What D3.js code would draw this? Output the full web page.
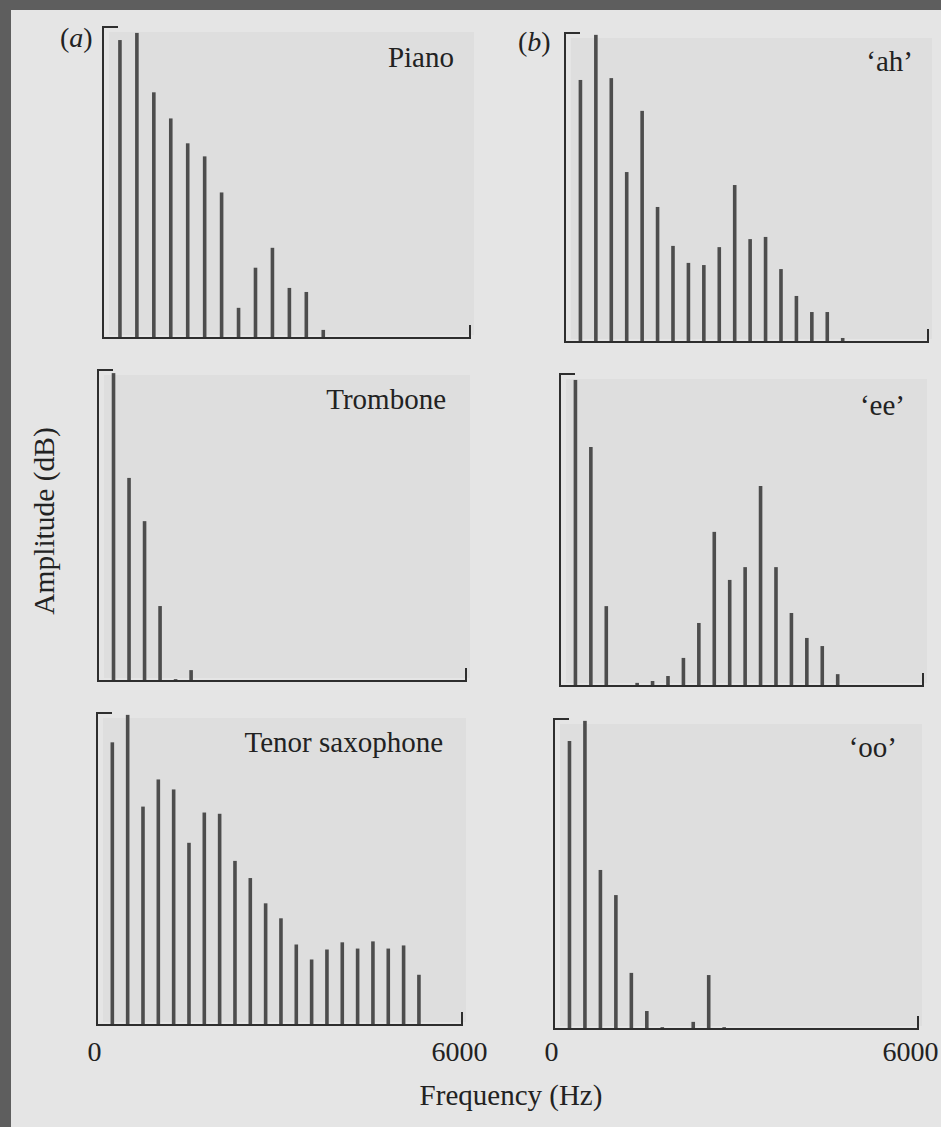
<!DOCTYPE html>
<html>
<head>
<meta charset="utf-8">
<script src="https://cdn.jsdelivr.net/npm/d3@7"></script>
<style>
  html, body { margin: 0; padding: 0; background: #5e5e5e; }
  svg { display: block; }
</style>
</head>
<body>
<div id="chart"></div>
<script>
// relative amplitude (0-100) of each harmonic
const pianoAmp     = [95.8, 98.1, 79.0, 70.6, 62.6, 58.4, 46.8, 9.7, 22.6, 29.0, 16.1, 14.8, 2.6];
const tromboneAmp  = [99.0, 65.3, 51.4, 24.1, 0.6, 3.5];
const saxAmp       = [90.6, 99.4, 70.0, 78.7, 75.5, 58.4, 68.1, 67.7, 52.6, 47.1, 39.0, 34.2, 25.8, 21.0, 24.2, 26.5, 24.5, 26.8, 24.5, 25.5, 16.1];
const ahAmp        = [84.8, 99.4, 85.4, 55.0, 74.8, 43.7, 31.1, 25.6, 24.9, 30.7, 50.8, 33.3, 34.0, 23.6, 14.9, 9.7, 9.7, 1.3];
const eeAmp        = [98.1, 76.6, 25.6, 0, 1.0, 1.6, 3.2, 9.0, 20.2, 49.4, 34.0, 38.1, 64.1, 38.1, 23.4, 15.4, 12.8, 3.8];
const ooAmp        = [92.9, 99.4, 51.3, 43.2, 18.1, 5.8, 0.6, 0, 2.3, 17.4, 0.6];

// fundamental frequency (Hz) for each spectrum
const fundamentals = {piano: 277, trombone: 253, sax: 252, ah: 255, ee: 255, oo: 255};

const panelTitles = {piano: 'Piano', trombone: 'Trombone', sax: 'Tenor saxophone',
                     ah: '\u2018ah\u2019', ee: '\u2018ee\u2019', oo: '\u2018oo\u2019'};
const freqTicks = [0, 6000];

const WIDTH = 941;
const HEIGHT = 1127;
const FONT = '"Liberation Serif", "DejaVu Serif", serif';

// where each little plot sits on the page (left, top, right, bottom of the axes)
const panels = [
    {key: 'piano',    amp: pianoAmp,    box: [103, 27, 470, 338],  tx: 454, ty: 67},
    {key: 'trombone', amp: tromboneAmp, box: [98, 370, 466, 681],  tx: 446, ty: 409},
    {key: 'sax',      amp: saxAmp,      box: [97, 713, 462, 1025], tx: 443, ty: 752, ticks: true, endShift: -3},
    {key: 'ah',       amp: ahAmp,       box: [565, 33, 928, 342],  tx: 913, ty: 71},
    {key: 'ee',       amp: eeAmp,       box: [560, 374, 923, 686], tx: 905, ty: 415},
    {key: 'oo',       amp: ooAmp,       box: [554, 719, 918, 1029], tx: 897, ty: 757, ticks: true, endShift: -8}
];

const svg = d3.select('#chart').append('svg')
    .attr('width', WIDTH)
    .attr('height', HEIGHT);

// dark page edge and the light printed sheet
svg.append('rect')
    .attr('width', WIDTH).attr('height', HEIGHT)
    .attr('fill', '#5e5e5e');
svg.append('rect')
    .attr('x', 11).attr('y', 10)
    .attr('width', WIDTH - 11).attr('height', HEIGHT - 10)
    .attr('fill', '#e5e5e5');

panels.forEach(p => {
    const [L, T, R, B] = p.box;
    const f0 = fundamentals[p.key];

    const x = d3.scaleLinear().domain([0, 6000]).range([L, R]);
    const y = d3.scaleLinear().domain([0, 100]).range([B, T]);

    const g = svg.append('g').attr('class', 'panel ' + p.key);

    // faint plot background
    g.append('rect')
        .attr('x', L + 6).attr('y', T + 5)
        .attr('width', R - L - 2).attr('height', B - T - 8)
        .attr('fill', '#dedede');

    // harmonic lines
    g.selectAll('rect.bar')
        .data(p.amp.map((a, i) => ({f: (i + 1) * f0, a: a})).filter(d => d.a > 0))
        .enter().append('rect')
        .attr('class', 'bar')
        .attr('x', d => x(d.f) - 1.8)
        .attr('width', 3.6)
        .attr('y', d => y(d.a))
        .attr('height', d => Math.max(2, B - y(d.a)))
        .attr('fill', '#4d4d4d');

    // bracket-style axes: short hook at top, upright tick at the far end
    g.append('path')
        .attr('d', `M${L + 15},${y(100)}H${L}V${B}H${R}V${B - 13}`)
        .attr('fill', 'none')
        .attr('stroke', '#2e2e2e')
        .attr('stroke-width', 2);

    g.append('text')
        .attr('x', p.tx).attr('y', p.ty)
        .attr('text-anchor', 'end')
        .attr('font-family', FONT)
        .attr('font-size', '29px')
        .attr('fill', '#222')
        .text(panelTitles[p.key]);

    if (p.ticks) {
        const axis = d3.axisBottom(x).tickValues(freqTicks).tickSize(0).tickPadding(0)
            .tickFormat(d3.format('d'));
        const ag = g.append('g')
            .attr('transform', 'translate(0,1061)')
            .call(axis);
        ag.select('.domain').remove();
        ag.selectAll('text')
            .attr('dy', 0)
            .attr('dx', d => d === 0 ? -3 : p.endShift)
            .attr('font-family', FONT)
            .attr('font-size', '28px')
            .attr('fill', '#222');
    }
});

// panel letters
svg.append('text')
    .attr('x', 60).attr('y', 47)
    .attr('font-family', FONT).attr('font-size', '28px').attr('fill', '#222')
    .html('(<tspan font-style="italic">a</tspan>)');
svg.append('text')
    .attr('x', 518).attr('y', 51)
    .attr('font-family', FONT).attr('font-size', '28px').attr('fill', '#222')
    .html('(<tspan font-style="italic">b</tspan>)');

// shared axis titles
svg.append('text')
    .attr('transform', 'translate(54,521) rotate(-90)')
    .attr('text-anchor', 'middle')
    .attr('font-family', FONT).attr('font-size', '29.5px').attr('fill', '#222')
    .text('Amplitude (dB)');

svg.append('text')
    .attr('x', 511).attr('y', 1105)
    .attr('text-anchor', 'middle')
    .attr('font-family', FONT).attr('font-size', '29px').attr('fill', '#222')
    .text('Frequency (Hz)');
</script>
</body>
</html>
